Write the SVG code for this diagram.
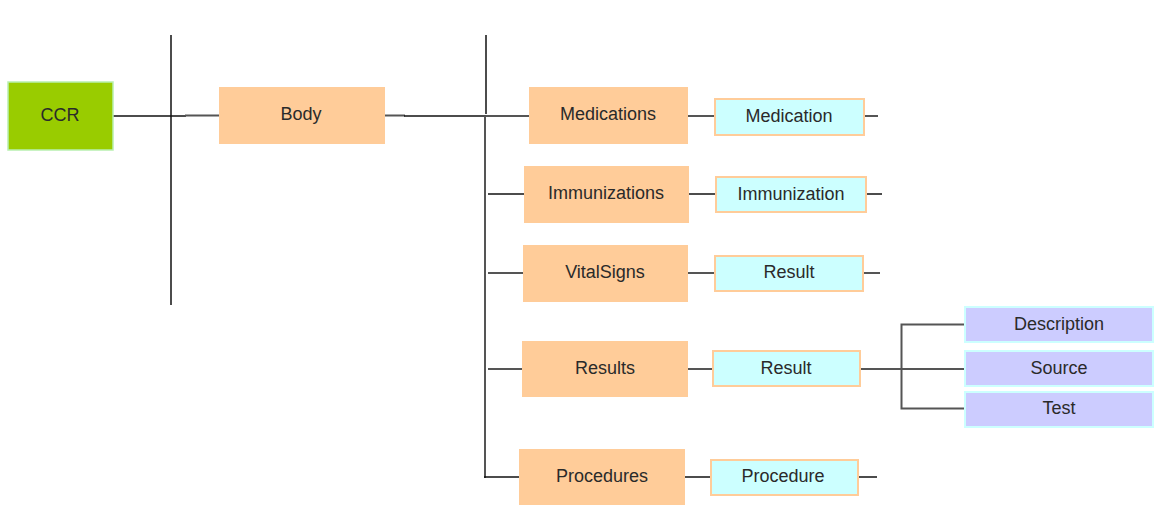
<svg xmlns="http://www.w3.org/2000/svg" width="1157" height="505" viewBox="0 0 1157 505">
  <style>
    .lbl { font-family: "Liberation Sans", Arial, sans-serif; font-size: 18px; fill: #2a2a2a; text-anchor: middle; dominant-baseline: central; }
    .root { fill: #99cc00; stroke: #b8f0b0; stroke-width: 1.5; }
    .sect { fill: #ffcc99; stroke: none; }
    .item { fill: #ccffff; stroke: #ffcc99; stroke-width: 2; }
    .attr { fill: #ccccff; stroke: #ccffff; stroke-width: 2; }
    .dk { stroke: #111; stroke-width: 1.5; fill: none; }
    .gr { stroke: #555; stroke-width: 2; fill: none; }
  </style>
  <rect width="1157" height="505" fill="#ffffff"/>

  <g id="connectors">
    <!-- level markers -->
    <line class="dk" x1="171" y1="35" x2="171" y2="305"/>
    <line class="dk" x1="486" y1="35" x2="486" y2="114"/>
    <!-- CCR to Body -->
    <line class="dk" x1="113" y1="116" x2="186" y2="116"/>
    <line class="gr" x1="185" y1="115.5" x2="220" y2="115.5"/>
    <!-- Body to sections -->
    <line class="gr" x1="385" y1="115.5" x2="405" y2="115.5"/>
    <line class="dk" x1="404" y1="116" x2="486" y2="116"/>
    <line class="gr" x1="485" y1="116" x2="485" y2="478"/>
    <line class="gr" x1="486" y1="116" x2="530" y2="116"/>
    <line class="dk" x1="488" y1="194" x2="525" y2="194"/>
    <line class="gr" x1="488" y1="273" x2="524" y2="273"/>
    <line class="gr" x1="488" y1="369" x2="523" y2="369"/>
    <line class="dk" x1="484" y1="477" x2="520" y2="477"/>
    <!-- sections to items -->
    <line class="gr" x1="688" y1="116" x2="715" y2="116"/>
    <line class="dk" x1="689" y1="194" x2="716" y2="194"/>
    <line class="gr" x1="688" y1="273" x2="716" y2="273"/>
    <line class="gr" x1="683" y1="369" x2="713" y2="369"/>
    <line class="dk" x1="685" y1="477" x2="711" y2="477"/>
    <!-- item stubs -->
    <line class="gr" x1="864" y1="116" x2="878" y2="116"/>
    <line class="dk" x1="866" y1="194" x2="882" y2="194"/>
    <line class="gr" x1="863" y1="273" x2="880" y2="273"/>
    <line class="dk" x1="858" y1="477" x2="877" y2="477"/>
    <!-- Result to attributes -->
    <line class="gr" x1="860" y1="369" x2="965" y2="369"/>
    <path class="gr" d="M965 324.5 H901.5 V408.5 H965"/>
  </g>

  <g id="ccr">
    <rect class="root" x="8" y="82" width="105" height="68"/>
    <text class="lbl" x="60" y="115">CCR</text>
  </g>
  <g id="body">
    <rect class="sect" x="219" y="87" width="166" height="57"/>
    <text class="lbl" x="301" y="114">Body</text>
  </g>

  <g id="medications">
    <rect class="sect" x="529" y="87" width="159" height="57"/>
    <text class="lbl" x="608" y="114">Medications</text>
  </g>
  <g id="medication">
    <rect class="item" x="715" y="99" width="149" height="36"/>
    <text class="lbl" x="789" y="116">Medication</text>
  </g>

  <g id="immunizations">
    <rect class="sect" x="524" y="166" width="165" height="57"/>
    <text class="lbl" x="606" y="193">Immunizations</text>
  </g>
  <g id="immunization">
    <rect class="item" x="716" y="177" width="150" height="35"/>
    <text class="lbl" x="791" y="194">Immunization</text>
  </g>

  <g id="vitalsigns">
    <rect class="sect" x="523" y="245" width="165" height="57"/>
    <text class="lbl" x="605" y="272">VitalSigns</text>
  </g>
  <g id="vitalsigns-result">
    <rect class="item" x="715" y="256" width="148" height="35"/>
    <text class="lbl" x="789" y="272">Result</text>
  </g>

  <g id="results">
    <rect class="sect" x="522" y="341" width="166" height="56"/>
    <text class="lbl" x="605" y="368">Results</text>
  </g>
  <g id="results-result">
    <rect class="item" x="713" y="351" width="147" height="35"/>
    <text class="lbl" x="786" y="368">Result</text>
  </g>

  <g id="description">
    <rect class="attr" x="965" y="307" width="188" height="35"/>
    <text class="lbl" x="1059" y="324">Description</text>
  </g>
  <g id="source">
    <rect class="attr" x="965" y="351" width="188" height="35"/>
    <text class="lbl" x="1059" y="368">Source</text>
  </g>
  <g id="test">
    <rect class="attr" x="965" y="392" width="188" height="35"/>
    <text class="lbl" x="1059" y="408">Test</text>
  </g>

  <g id="procedures">
    <rect class="sect" x="519" y="449" width="166" height="58"/>
    <text class="lbl" x="602" y="476">Procedures</text>
  </g>
  <g id="procedure">
    <rect class="item" x="711" y="460" width="147" height="35"/>
    <text class="lbl" x="783" y="476">Procedure</text>
  </g>
</svg>
